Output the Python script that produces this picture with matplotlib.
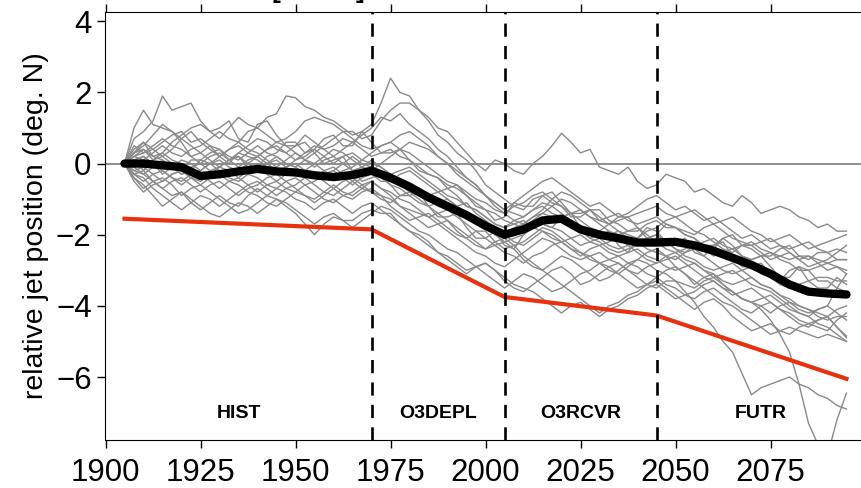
import numpy as np
import matplotlib
matplotlib.use("Agg")
import matplotlib.pyplot as plt

plt.rcParams['font.family'] = ['Liberation Sans', 'DejaVu Sans']

# ensemble members, every 2.5 years from 1905 to 2095 (deg. N relative to 1905)
m01 = [0, 0.7, 0.9, 1.2, 1.9, 1.5, 1.6, 1.7, 1.2, 0.9,
       1.0, 1.2, 0.7, 0.6, 1.1, 1.2, 0.8, 0.5, 0.5, 0.6,
       0.3, 0.0, 0.1, 0.2, -0.2, -0.5, -0.4, -0.3, -0.6, -0.9,
       -0.9, -0.8, -1.2, -1.5, -1.5, -1.4, -1.8, -2.1, -2.1, -1.9,
       -2.3, -2.4, -2.0, -1.6, -1.7, -1.8, -1.5, -1.4, -1.8, -2.1,
       -2.0, -1.9, -2.3, -2.5, -2.1, -1.8, -1.9, -2.2, -2.2, -2.1,
       -2.5, -2.6, -2.3, -2.2, -2.6, -2.9, -2.9, -2.8, -3.1, -3.3,
       -3.0, -2.9, -3.3, -3.5, -3.5, -3.2, -3.4]
m02 = [0, 1.0, 1.5, 1.1, 1.0, 0.9, 0.6, 0.2, 0.3, 0.5,
       0.2, 0.4, 0.6, 0.9, 1.0, 1.3, 1.4, 1.9, 1.85, 1.6,
       1.5, 1.3, 1.2, 1.0, 0.8, 0.9, 0.6, 0.3, 0.3, 0.4,
       0.1, -0.2, -0.3, -0.4, -0.7, -0.6, -0.9, -1.2, -1.3, -1.6,
       -1.5, -1.1, -1.2, -1.2, -0.9, -0.8, -1.1, -1.4, -1.4, -1.3,
       -1.6, -1.7, -1.5, -1.5, -1.8, -2.1, -2.0, -1.7, -1.8, -2.0,
       -2.1, -2.4, -2.4, -2.1, -2.3, -2.6, -2.7, -2.6, -2.9, -3.2,
       -3.2, -2.9, -3.0, -3.3, -3.3, -3.5, -3.6]
m03 = [0, 0.3, 0.4, 0.1, 0.2, 0.0, -0.2, 0.1, 0.1, 0.3,
       0.4, 0.1, 0.2, -0.1, -0.1, 0.2, 0.3, 0.6, 0.6, 0.3,
       0.4, 0.7, 0.8, 0.5, 0.5, 0.9, 1.1, 1.7, 2.4, 2.0,
       1.9, 1.5, 1.2, 0.8, 0.6, 0.3, 0.1, -0.2, -0.6, -0.8,
       -1.0, -1.2, -1.3, -1.0, -0.9, -1.1, -1.2, -1.5, -1.5, -1.3,
       -1.3, -1.6, -1.7, -1.9, -1.9, -1.7, -1.6, -1.8, -1.8, -2.0,
       -2.1, -2.3, -2.3, -2.1, -2.0, -2.3, -2.4, -2.6, -2.6, -2.4,
       -2.3, -2.6, -2.7, -2.5, -2.5, -2.7, -2.7]
m04 = [0, 0.5, 0.3, 0.4, 0.6, 0.8, 0.9, 0.6, 0.7, 0.5,
       0.4, 0.2, 0.1, 0.3, 0.5, 0.3, 0.2, 0.0, -0.1, 0.1,
       0.3, 0.5, 0.7, 0.9, 0.9, 0.7, 0.8, 1.2, 1.5, 1.7,
       1.7, 1.5, 1.3, 1.0, 0.9, 0.6, 0.3, 0.0, -0.2, 0.1,
       0.0, -0.2, -0.3, 0.0, 0.2, 0.5, 0.85, 0.6, 0.3, 0.4,
       -0.1, -0.2, -0.3, -0.1, -0.5, -0.7, -0.6, -0.3, -0.4, -0.5,
       -0.8, -0.7, -0.9, -1.1, -1.2, -0.9, -1.1, -1.4, -1.3, -1.2,
       -1.3, -1.5, -1.6, -1.8, -1.7, -1.9, -1.9]
m05 = [0, 0.4, 0.6, 0.2, 0.3, 0.6, 0.8, 1.0, 1.1, 0.9,
       0.7, 1.0, 1.3, 1.1, 1.0, 0.8, 0.6, 0.7, 0.9, 1.2,
       1.3, 1.2, 1.1, 0.9, 0.7, 0.5, 0.4, 0.5, 0.6, 0.8,
       0.9, 0.7, 0.5, 0.2, 0.0, -0.3, -0.5, -0.7, -0.9, -1.2,
       -1.4, -1.6, -1.7, -1.5, -1.3, -1.0, -0.8, -0.9, -1.1, -1.3,
       -1.5, -1.7, -1.9, -2.0, -2.1, -1.9, -1.8, -1.6, -1.5, -1.7,
       -1.9, -2.0, -2.2, -2.4, -2.5, -2.3, -2.3, -2.5, -2.7, -2.6,
       -2.5, -2.7, -2.9, -2.8, -2.7, -2.5, -2.3]
m06 = [0, -0.4, -0.6, -0.9, -1.2, -1.0, -0.8, -1.1, -1.3, -1.1,
       -0.9, -1.1, -1.2, -0.9, -0.7, -0.9, -1.0, -1.2, -1.4, -1.7,
       -2.0, -1.7, -1.5, -1.6, -1.6, -1.4, -1.3, -1.4, -1.4, -1.7,
       -1.9, -2.0, -2.2, -2.5, -2.6, -2.8, -3.0, -2.9, -2.8, -3.0,
       -3.3, -3.5, -3.6, -3.4, -3.2, -3.0, -2.9, -3.1, -3.4, -3.3,
       -3.1, -2.9, -2.8, -3.0, -3.2, -3.4, -3.5, -3.3, -3.3, -3.6,
       -3.9, -4.3, -4.6, -5.0, -5.3, -5.9, -6.5, -6.3, -6.2, -6.1,
       -6.0, -6.2, -6.3, -6.5, -6.6, -6.8, -6.9]
m07 = [0, -0.2, -0.3, -0.5, -0.7, -0.5, -0.4, -0.6, -0.8, -0.6,
       -0.5, -0.7, -0.9, -0.7, -0.6, -0.4, -0.3, -0.5, -0.7, -0.9,
       -1.0, -0.8, -0.6, -0.8, -0.9, -0.7, -0.5, -0.7, -0.9, -1.2,
       -1.4, -1.6, -1.8, -1.7, -1.6, -1.9, -2.1, -2.3, -2.4, -2.3,
       -2.2, -2.4, -2.7, -2.9, -3.0, -2.8, -2.6, -2.7, -2.9, -3.1,
       -3.3, -3.2, -3.0, -2.8, -2.7, -2.5, -2.4, -2.6, -2.9, -3.1,
       -3.4, -3.2, -3.1, -3.4, -3.6, -3.8, -3.9, -4.1, -4.4, -4.8,
       -5.3, -6.2, -7.3, -7.9, -8.2, -7.2, -6.45]
m08 = [0, 0.1, -0.2, 0.1, 0.3, 0.1, 0.0, -0.2, -0.4, -0.2,
       -0.1, 0.1, 0.3, 0.2, 0.1, -0.1, -0.3, -0.1, 0.0, -0.2,
       -0.4, -0.3, -0.2, 0.0, 0.2, 0.0, -0.1, -0.3, -0.4, -0.6,
       -0.8, -0.9, -1.0, -1.2, -1.3, -1.2, -1.1, -1.4, -1.6, -1.8,
       -2.0, -2.2, -2.3, -2.1, -1.9, -2.0, -2.2, -2.4, -2.6, -2.4,
       -2.3, -2.2, -2.1, -2.3, -2.5, -2.7, -2.8, -2.7, -2.6, -2.8,
       -3.0, -3.2, -3.3, -3.5, -3.7, -3.6, -3.5, -3.7, -3.9, -4.1,
       -4.2, -4.4, -4.5, -4.4, -4.3, -4.6, -4.85]
m09 = [0, -0.3, -0.5, -0.3, -0.2, -0.4, -0.6, -0.4, -0.3, -0.5,
       -0.7, -0.5, -0.4, -0.2, -0.1, -0.3, -0.5, -0.3, -0.2, -0.4,
       -0.6, -0.8, -0.9, -0.7, -0.5, -0.7, -0.8, -0.9, -1.0, -1.2,
       -1.3, -1.4, -1.5, -1.7, -1.9, -2.1, -2.3, -2.5, -2.6, -2.8,
       -2.9, -2.7, -2.5, -2.3, -2.1, -2.2, -2.4, -2.6, -2.7, -2.6,
       -2.5, -2.7, -2.8, -3.0, -3.1, -2.9, -2.8, -2.6, -2.5, -2.7,
       -2.8, -3.0, -3.2, -3.1, -3.0, -3.2, -3.4, -3.5, -3.6, -3.8,
       -4.0, -4.2, -4.3, -4.5, -4.6, -4.8, -5.0]
m10 = [0, 0.1, 0.2, 0.0, -0.3, -0.1, 0.1, 0.0, -0.2, 0.0,
       0.2, 0.4, 0.5, 0.3, 0.2, 0.4, 0.6, 0.5, 0.3, 0.1,
       -0.1, 0.1, 0.2, 0.0, -0.2, -0.1, 0.1, -0.1, -0.3, -0.5,
       -0.6, -0.8, -0.9, -0.8, -0.7, -0.9, -1.2, -1.3, -1.5, -1.7,
       -1.8, -1.6, -1.5, -1.3, -1.1, -1.2, -1.4, -1.6, -1.8, -2.0,
       -2.1, -2.0, -1.9, -2.1, -2.3, -2.2, -2.1, -2.2, -2.4, -2.5,
       -2.3, -2.4, -2.6, -2.5, -2.4, -2.6, -2.7, -2.6, -2.5, -2.7,
       -2.8, -3.0, -3.0, -2.9, -2.8, -2.9, -3.0]
m11 = [0, -0.3, -0.4, -0.7, -0.9, -1.1, -1.3, -1.1, -0.9, -1.0,
       -1.2, -1.0, -0.8, -0.6, -0.5, -0.7, -0.9, -0.7, -0.6, -0.4,
       -0.3, -0.5, -0.7, -0.9, -1.0, -0.8, -0.7, -0.9, -1.2, -1.4,
       -1.6, -1.5, -1.4, -1.6, -1.8, -2.0, -2.1, -1.9, -1.9, -2.2,
       -2.4, -2.3, -2.2, -2.0, -1.8, -1.9, -2.1, -2.3, -2.5, -2.6,
       -2.8, -3.0, -3.1, -2.9, -2.7, -2.8, -3.0, -3.1, -3.3, -3.4,
       -3.5, -3.3, -3.2, -3.4, -3.6, -3.8, -3.9, -3.8, -3.7, -3.9,
       -4.1, -4.2, -4.3, -4.1, -4.0, -4.2, -4.4]
m12 = [0, 0.2, 0.3, 0.5, 0.7, 0.5, 0.4, 0.2, 0.0, 0.2,
       0.3, 0.1, -0.1, 0.1, 0.2, 0.0, -0.2, -0.1, 0.1, 0.3,
       0.5, 0.4, 0.2, 0.4, 0.6, 0.4, 0.2, 0.3, 0.4, 0.2,
       0.1, -0.1, -0.3, -0.4, -0.6, -0.7, -0.9, -1.1, -1.3, -1.4,
       -1.6, -1.7, -1.8, -1.6, -1.4, -1.2, -1.0, -1.1, -1.3, -1.5,
       -1.6, -1.5, -1.4, -1.6, -1.7, -1.6, -1.5, -1.7, -1.8, -1.9,
       -2.0, -1.8, -1.7, -1.9, -2.1, -2.2, -2.3, -2.2, -2.1, -2.3,
       -2.4, -2.3, -2.2, -2.4, -2.5, -2.4, -2.5]
m13 = [0, -0.4, -0.7, -0.5, -0.4, -0.6, -0.9, -0.7, -0.6, -0.4,
       -0.3, -0.5, -0.6, -0.8, -0.9, -1.1, -1.2, -1.0, -0.8, -0.9,
       -1.1, -0.9, -0.7, -0.5, -0.4, -0.6, -0.8, -1.0, -1.1, -0.9,
       -0.8, -1.0, -1.2, -1.4, -1.6, -1.8, -2.0, -2.2, -2.4, -2.2,
       -2.1, -2.3, -2.6, -2.8, -3.0, -3.2, -3.4, -3.6, -3.8, -4.0,
       -4.2, -4.0, -3.9, -3.7, -3.6, -3.4, -3.3, -3.5, -3.7, -3.9,
       -4.1, -3.9, -3.8, -4.0, -4.3, -4.5, -4.7, -4.6, -4.5, -4.7,
       -4.8, -4.6, -4.5, -4.6, -4.7, -4.4, -4.2]
m14 = [0, 0.2, 0.1, 0.3, 0.5, 0.3, 0.2, 0.4, 0.5, 0.7,
       0.9, 0.7, 0.6, 0.4, 0.3, 0.1, -0.1, 0.1, 0.3, 0.1,
       0.0, -0.2, -0.4, -0.2, -0.1, 0.1, 0.3, 0.5, 0.6, 0.4,
       0.3, 0.1, -0.1, -0.3, -0.5, -0.6, -0.8, -1.0, -1.1, -1.3,
       -1.4, -1.2, -1.1, -0.9, -0.8, -1.0, -1.2, -1.4, -1.6, -1.8,
       -1.9, -1.7, -1.6, -1.5, -1.4, -1.3, -1.2, -1.4, -1.5, -1.4,
       -1.3, -1.5, -1.7, -1.6, -1.5, -1.7, -1.9, -2.0, -2.2, -2.1,
       -2.0, -2.2, -2.4, -2.3, -2.2, -2.1, -2.0]
m15 = [0, -0.1, -0.3, -0.1, 0.1, -0.1, -0.3, -0.2, 0.1, 0.0,
       -0.2, -0.4, -0.5, -0.3, -0.2, 0.0, 0.2, 0.0, -0.1, -0.3,
       -0.4, -0.2, -0.1, -0.3, -0.5, -0.3, -0.2, -0.4, -0.6, -0.7,
       -0.9, -1.1, -1.2, -1.1, -1.0, -1.2, -1.4, -1.6, -1.8, -2.0,
       -2.2, -2.1, -2.0, -1.8, -1.7, -1.8, -1.9, -2.1, -2.3, -2.2,
       -2.1, -2.3, -2.4, -2.3, -2.2, -2.4, -2.5, -2.6, -2.7, -2.5,
       -2.4, -2.6, -2.8, -3.0, -3.1, -3.0, -2.9, -3.1, -3.2, -3.4,
       -3.5, -3.4, -3.3, -3.2, -3.2, -3.3, -3.3]
m16 = [0, 0.3, 0.5, 0.8, 1.1, 0.9, 0.7, 0.5, 0.3, 0.1,
       -0.1, 0.1, 0.2, 0.0, -0.2, 0.0, 0.1, -0.1, -0.3, -0.2,
       0.0, 0.2, 0.4, 0.3, 0.1, -0.1, -0.2, 0.0, 0.2, 0.4,
       0.6, 0.5, 0.4, 0.2, 0.0, -0.2, -0.4, -0.6, -0.9, -1.1,
       -1.3, -1.4, -1.5, -1.3, -1.2, -1.4, -1.5, -1.4, -1.3, -1.5,
       -1.7, -1.9, -2.0, -1.9, -1.8, -2.0, -2.2, -2.4, -2.5, -2.4,
       -2.3, -2.2, -2.1, -2.3, -2.4, -2.3, -2.2, -2.4, -2.5, -2.6,
       -2.7, -2.6, -2.6, -2.7, -2.8, -2.7, -2.7]
m17 = [0, -0.5, -0.8, -0.6, -0.5, -0.3, -0.2, -0.4, -0.6, -0.8,
       -1.0, -1.2, -1.4, -1.3, -1.1, -0.9, -0.7, -0.8, -1.0, -1.1,
       -1.3, -1.1, -1.0, -1.2, -1.4, -1.2, -1.1, -1.3, -1.5, -1.7,
       -1.9, -2.1, -2.3, -2.5, -2.7, -2.9, -3.1, -2.9, -2.8, -3.0,
       -3.2, -3.4, -3.5, -3.6, -3.8, -4.0, -4.2, -4.0, -3.9, -4.1,
       -4.3, -4.1, -4.0, -3.8, -3.7, -3.5, -3.4, -3.6, -3.8, -3.7,
       -3.6, -3.4, -3.3, -3.5, -3.6, -3.8, -3.9, -4.0, -4.2, -4.0,
       -3.9, -4.0, -4.1, -4.2, -4.3, -4.1, -4.0]
m18 = [0, 0.1, 0.2, 0.0, -0.2, -0.4, -0.5, -0.3, -0.2, 0.0,
       0.1, -0.1, -0.2, 0.0, 0.2, 0.4, 0.5, 0.3, 0.1, 0.2,
       0.4, 0.2, 0.0, 0.2, 0.3, 0.1, 0.0, -0.1, -0.3, -0.2,
       -0.1, -0.3, -0.5, -0.7, -0.9, -1.0, -1.2, -1.3, -1.5, -1.7,
       -1.8, -1.7, -1.6, -1.8, -1.9, -2.1, -2.2, -2.1, -2.0, -2.2,
       -2.3, -2.5, -2.6, -2.5, -2.4, -2.6, -2.7, -2.9, -3.0, -2.9,
       -2.8, -3.0, -3.1, -3.3, -3.4, -3.3, -3.2, -3.4, -3.5, -3.7,
       -3.8, -4.0, -4.1, -4.3, -4.4, -4.3, -4.3]
m19 = [0, -0.2, -0.1, -0.3, -0.5, -0.3, -0.2, -0.4, -0.5, -0.3,
       -0.1, -0.2, -0.4, -0.6, -0.8, -0.6, -0.5, -0.7, -0.8, -0.6,
       -0.5, -0.3, -0.2, -0.4, -0.6, -0.4, -0.3, -0.5, -0.5, -0.3,
       -0.2, -0.4, -0.6, -0.8, -1.0, -1.2, -1.4, -1.5, -1.7, -1.9,
       -2.0, -1.8, -1.7, -1.5, -1.4, -1.5, -1.6, -1.8, -1.9, -2.1,
       -2.2, -2.4, -2.5, -2.4, -2.3, -2.1, -2.0, -2.2, -2.4, -2.6,
       -2.7, -2.9, -3.0, -2.9, -2.8, -3.0, -3.2, -3.4, -3.5, -3.7,
       -3.9, -4.1, -4.2, -4.1, -4.0, -3.5, -3.1]
m20 = [0, 0.2, 0.4, 0.2, 0.1, -0.1, -0.3, -0.1, 0.0, -0.2,
       -0.4, -0.3, -0.1, -0.3, -0.4, -0.6, -0.7, -0.5, -0.4, -0.6,
       -0.8, -1.0, -1.1, -0.9, -0.8, -0.6, -0.5, -0.7, -0.8, -1.0,
       -1.1, -1.3, -1.5, -1.4, -1.3, -1.5, -1.7, -1.9, -2.1, -2.3,
       -2.5, -2.6, -2.8, -2.6, -2.5, -2.3, -2.2, -2.4, -2.5, -2.7,
       -2.8, -2.7, -2.6, -2.8, -2.9, -3.1, -3.2, -3.4, -3.5, -3.7,
       -3.8, -3.6, -3.5, -3.7, -3.9, -4.1, -4.2, -4.0, -3.9, -4.1,
       -4.3, -4.5, -4.6, -4.4, -4.3, -4.6, -4.9]
m21 = [0, 0.3, 0.6, 0.4, 0.2, 0.4, 0.7, 0.9, 0.6, 0.4,
       0.2, 0.0, 0.3, 0.5, 0.7, 0.6, 0.4, 0.3, 0.5, 0.8,
       0.6, 0.4, 0.5, 0.7, 0.6, 0.8, 1.0, 1.3, 1.2, 1.4,
       1.1, 0.9, 0.7, 0.4, 0.2, -0.1, -0.4, -0.6, -0.9, -1.1,
       -1.3, -1.1, -0.9, -0.7, -0.5, -0.4, -0.6, -0.8, -1.0, -1.2,
       -1.1, -1.3, -1.5, -1.4, -1.2, -1.0, -0.9, -1.1, -1.3, -1.2,
       -1.4, -1.6, -1.5, -1.7, -1.9, -2.1, -2.0, -2.2, -2.4, -2.3,
       -2.5, -2.7, -2.6, -2.8, -3.0, -2.9, -3.1]
m22 = [0, -0.3, -0.2, -0.5, -0.7, -0.9, -0.8, -1.0, -1.2, -1.4,
       -1.5, -1.3, -1.1, -1.2, -1.4, -1.2, -1.0, -1.1, -1.3, -1.5,
       -1.7, -1.5, -1.4, -1.6, -1.8, -1.6, -1.4, -1.2, -1.3, -1.5,
       -1.7, -1.9, -2.0, -2.2, -2.4, -2.5, -2.7, -2.9, -3.1, -3.3,
       -3.5, -3.3, -3.1, -3.2, -3.4, -3.6, -3.5, -3.3, -3.1, -3.0,
       -2.8, -2.9, -3.1, -3.3, -3.5, -3.4, -3.2, -3.0, -2.9, -3.1,
       -3.3, -3.5, -3.7, -3.9, -4.0, -4.2, -4.4, -4.6, -4.8, -4.7,
       -4.6, -4.7, -4.8, -4.9, -4.8, -4.9, -5.0]
members = [m01, m02, m03, m04, m05, m06, m07, m08, m09, m10, m11,
           m12, m13, m14, m15, m16, m17, m18, m19, m20, m21, m22]

# ensemble mean, 5-yearly
mean_years = np.arange(1905, 2096, 5)
ens_mean = [0, 0.0, -0.05, -0.1, -0.35, -0.3, -0.22, -0.15, -0.22, -0.25,
            -0.33, -0.38, -0.32, -0.2, -0.4, -0.65, -0.95, -1.2, -1.45, -1.75,
            -2.0, -1.85, -1.6, -1.55, -1.85, -2.0, -2.1, -2.22, -2.22, -2.2,
            -2.3, -2.45, -2.65, -2.85, -3.1, -3.4, -3.6, -3.65, -3.68]

# piecewise linear trend across the forcing periods
trend_years = [1905, 1970, 2005, 2045, 2095]
trend_vals = [-1.55, -1.85, -3.75, -4.27, -6.05]

# period boundaries and labels
bounds = [1970, 2005, 2045]
periods = ['HIST', 'O3DEPL', 'O3RCVR', 'FUTR']
period_mid = [1935, 1987.5, 2025, 2072.5]

fig = plt.figure(figsize=(8.62, 4.88), dpi=100)
ax = fig.add_axes([105.5 / 862, 48 / 488, 760 / 862, 428 / 488])

ax.axhline(0, color='#707070', lw=1.1, zorder=1)
for m in members:
    yrs = np.linspace(1905, 2095, len(m))
    ax.plot(yrs, m, color='#8a8a8a', lw=1.0, zorder=2)
ax.plot(mean_years, ens_mean, color='black', lw=6, solid_capstyle='round',
        solid_joinstyle='round', zorder=4)
ax.plot(trend_years, trend_vals, color='#e8320f', lw=3, zorder=3)
for b in bounds:
    ax.axvline(b, color='black', lw=1.9, ls=(0, (5, 3.5)), zorder=5)
for name, xm in zip(periods, period_mid):
    ax.text(xm, -7.03, name, ha='center', va='center', fontsize=14, fontweight='bold')

ax.set_xlim(1900, 2100)
ax.set_ylim(-7.77, 4.26)
ax.set_xticks([1900, 1925, 1950, 1975, 2000, 2025, 2050, 2075])
ax.set_yticks([-6, -4, -2, 0, 2, 4])
ax.tick_params(axis='both', labelsize=22.5, direction='out', length=5.5, width=1)
ax.tick_params(axis='x', top=True, pad=7.5)
ax.tick_params(axis='y', pad=4.5)
ax.spines['right'].set_visible(False)
ax.set_ylabel('relative jet position (deg. N)', fontsize=20.5)
ax.yaxis.set_label_coords(-0.074, 0.5)

fig.text(318 / 862, 1.0031, '[CESM]', ha='center', va='baseline', fontsize=19, fontweight='bold')

fig.savefig('out.png', dpi=100)
